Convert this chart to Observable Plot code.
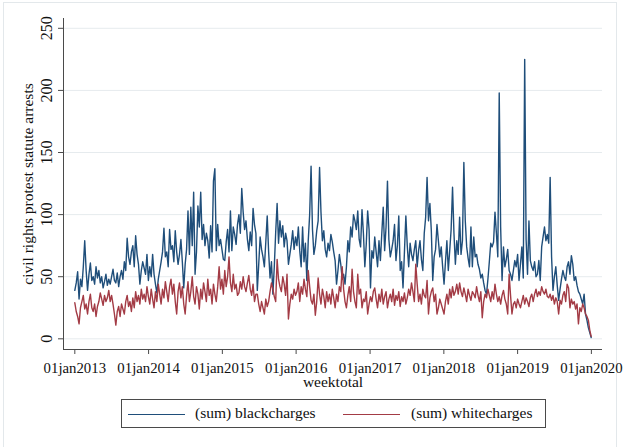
<!DOCTYPE html>
<html>
<head>
<meta charset="utf-8">
<script src="https://cdn.jsdelivr.net/npm/d3@7"></script>
<script src="https://cdn.jsdelivr.net/npm/@observablehq/plot@0.6"></script>
<style>
  body { margin: 0; background: #ffffff; }
  #wrap { position: relative; width: 626px; height: 447px; overflow: hidden; font-family: "Liberation Serif", serif; color: #111; }
  #outer { position: absolute; left: 3px; top: 2px; width: 614px; height: 470px; border: 1px solid #e3e8eb; box-sizing: border-box; }
  #chart { position: absolute; left: 0; top: 0; }
  #legend { position: absolute; left: 121px; top: 399px; width: 425px; height: 29px; border: 1px solid #4a4a4a; box-sizing: border-box; background: #fff; }
  #legend .sw { position: absolute; top: 14px; width: 57px; height: 0; border-top: 1.4px solid; }
  #legend .lab { position: absolute; top: 4px; font-size: 15.5px; line-height: 18px; white-space: nowrap; }
</style>
</head>
<body>
<div id="wrap">
  <div id="outer"></div>
  <div id="chart"></div>
  <div id="legend"></div>
</div>
<script>
// Weekly totals of civil rights protest statute arrests, one value per week from 01jan2013.
const black2013 = [39,45,54,32,48,42,58,79,55,39,52,61,47,50,44,58,49,55,45,50,41,46,52,43,48,44,50,56,47,45,53,42,50,55,48,62,55,81,66,60,70,75,58,83,68,60,44,55,62,57,52,68];
const black2014 = [47,58,50,68,52,44,37,48,55,62,70,89,66,70,58,88,72,75,62,87,70,60,68,80,62,41,60,72,103,68,106,75,118,52,70,107,90,118,80,92,75,85,79,65,91,70,127,137,71,92,75,80];
const black2015 = [72,64,63,78,88,70,103,71,90,84,76,92,100,85,121,102,88,95,80,71,86,75,105,92,85,39,60,82,72,66,58,78,99,70,49,62,36,58,86,109,77,95,82,91,74,85,79,60,68,76,87,72];
const black2016 = [82,75,90,71,58,90,62,77,47,79,100,139,88,68,75,87,95,138,102,79,87,72,66,77,71,84,78,70,63,44,55,68,60,48,52,44,58,79,70,90,82,100,95,88,103,80,74,104,85,58,76,103];
const black2017 = [88,41,71,65,82,70,58,79,63,85,106,71,90,127,80,66,72,79,92,63,75,99,55,62,41,70,99,75,58,77,68,63,72,79,58,71,79,64,55,85,98,130,95,109,87,47,66,72,92,79,66,74];
const black2018 = [58,44,62,79,55,71,88,122,85,60,79,68,98,68,79,142,95,74,65,58,90,58,82,66,68,60,56,49,52,45,39,36,48,62,77,74,78,102,85,66,198,90,47,74,58,64,72,55,52,47,55,63];
const black2019 = [58,68,47,60,74,49,225,80,52,95,63,58,55,62,50,52,63,47,74,82,90,79,84,77,130,66,39,50,58,43,31,40,48,55,50,47,58,62,52,67,60,47,50,43,38,36,32,28,36,20,15,9,5,1];

const white2013 = [29,22,18,12,25,30,35,24,28,20,30,36,25,22,28,18,26,30,37,32,27,35,30,33,39,30,35,28,20,11,22,26,18,28,24,20,30,35,26,30,22,33,25,38,30,35,28,40,32,36,30,42];
const white2014 = [34,28,40,32,25,38,30,44,36,28,40,33,46,38,30,42,48,36,44,30,20,38,45,33,42,28,20,35,46,30,38,50,34,28,42,36,24,40,32,45,38,30,48,35,40,28,44,36,30,42,58,40];
const white2015 = [48,36,55,42,50,66,45,38,52,40,44,35,37,46,40,50,42,38,45,51,40,35,44,30,36,36,28,22,30,25,20,32,26,30,38,45,40,34,30,64,48,42,38,50,44,35,52,16,28,36,32,40];
const white2016 = [35,38,45,30,42,36,48,40,34,55,42,31,28,36,19,30,49,36,28,40,34,25,38,30,36,28,40,33,25,36,30,42,38,58,40,30,25,35,42,30,56,38,30,25,52,36,40,25,32,30,38,20];
const white2017 = [28,34,30,38,41,32,25,36,30,40,28,34,38,25,32,36,30,40,27,35,31,38,26,34,30,37,28,33,40,35,45,38,30,60,44,30,36,28,40,35,33,47,20,33,38,41,30,36,20,25,32,28];
const white2018 = [24,20,30,36,28,40,33,42,35,38,44,36,45,38,34,41,36,30,40,35,31,38,36,33,42,35,30,38,17,30,36,33,40,35,30,38,32,44,36,30,34,28,35,39,32,28,20,52,35,20,28,30];
const white2019 = [25,32,28,25,30,35,28,33,30,26,33,36,30,36,40,34,38,35,42,38,36,40,34,33,36,31,35,28,33,30,20,31,28,35,38,30,44,41,25,32,28,30,24,28,12,25,22,28,25,20,18,15,7,2];

const seriesNames = ["(sum) blackcharges", "(sum) whitecharges"];
const seriesColors = ["#1f4e7a", "#a33b45"];
const yTicks = [0, 50, 100, 150, 200, 250];
const tickYears = [2013, 2014, 2015, 2016, 2017, 2018, 2019, 2020];
const yTitle = "civil rights protest statute arrests";
const xTitle = "weektotal";

const blackcharges = [].concat(black2013, black2014, black2015, black2016, black2017, black2018, black2019);
const whitecharges = [].concat(white2013, white2014, white2015, white2016, white2017, white2018, white2019);

// one row per week, dated from the first week of 2013
const rows = blackcharges.map((b, i) => ({
  date: new Date(Date.UTC(2013, 0, 1 + 7 * i)),
  black: b,
  white: whitecharges[i]
}));

const xTicks = tickYears.map(y => new Date(Date.UTC(y, 0, 1)));
const fmtDay = d3.utcFormat("%d%b%Y");
const xDomain = [new Date(Date.UTC(2012, 10, 6)), new Date(Date.UTC(2020, 1, 25))];
const yDomain = [-8.6, 257.9];
const axisColor = "#4a4a4a";
const textColor = "#111";

const chart = Plot.plot({
  width: 626,
  height: 392,
  marginLeft: 63,
  marginRight: 24,
  marginTop: 18,
  marginBottom: 43,
  style: { fontFamily: '"Liberation Serif", serif', fontSize: "14px", color: textColor, background: "transparent" },
  x: { type: "utc", domain: xDomain },
  y: { domain: yDomain },
  marks: [
    Plot.gridY(yTicks, { stroke: "#e6ebee", strokeOpacity: 1, strokeWidth: 1 }),
    Plot.lineY(rows, { x: "date", y: "black", stroke: seriesColors[0], strokeWidth: 1.4 }),
    Plot.lineY(rows, { x: "date", y: "white", stroke: seriesColors[1], strokeWidth: 1.4 }),
    Plot.ruleX([xDomain[0]], { stroke: axisColor, strokeWidth: 1 }),
    Plot.ruleY([yDomain[0]], { stroke: axisColor, strokeWidth: 1 }),
    Plot.axisY(yTicks, { tickSize: 5, tickFormat: () => "", label: null, stroke: axisColor }),
    Plot.text(yTicks, { y: d => d, text: d => String(d), frameAnchor: "left", dx: -17, rotate: -90, textAnchor: "middle", lineAnchor: "middle", fontSize: 16, fill: textColor }),
    Plot.axisX(xTicks, { tickSize: 5, tickPadding: 8, tickFormat: d => fmtDay(d).toLowerCase(), label: null, stroke: axisColor, fontSize: 14.8, fill: textColor }),
    Plot.text([yTitle], { frameAnchor: "left", dx: -35, rotate: -90, textAnchor: "middle", lineAnchor: "middle", fontSize: 15.5, fill: textColor }),
    Plot.text([xTitle], { frameAnchor: "bottom", dy: 33, textAnchor: "middle", lineAnchor: "middle", fontSize: 15.5, fill: textColor })
  ]
});
document.getElementById("chart").appendChild(chart);

// legend box below the plot
const legend = document.getElementById("legend");
const legendPos = [[6, 73], [221, 289]];
seriesNames.forEach((name, i) => {
  const sw = document.createElement("div");
  sw.className = "sw";
  sw.style.left = legendPos[i][0] + "px";
  sw.style.borderTopColor = seriesColors[i];
  legend.appendChild(sw);
  const lab = document.createElement("div");
  lab.className = "lab";
  lab.style.left = legendPos[i][1] + "px";
  lab.textContent = name;
  legend.appendChild(lab);
});
</script>
</body>
</html>
